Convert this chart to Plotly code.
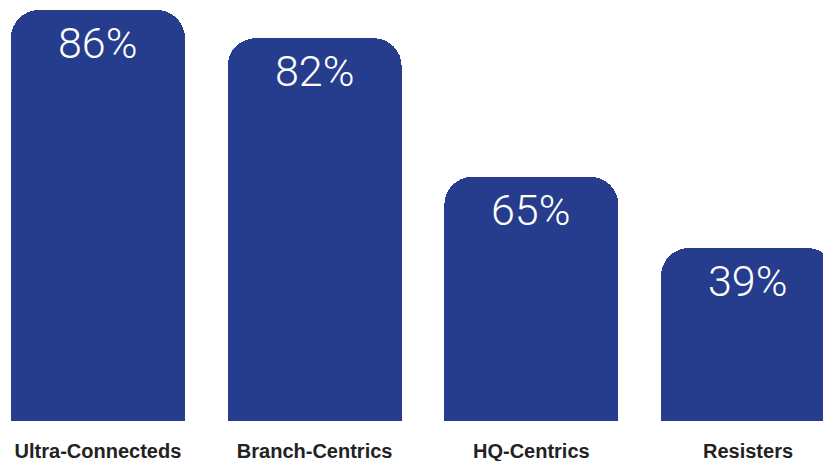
import plotly.graph_objects as go

categories = ["Ultra-Connecteds", "Branch-Centrics", "HQ-Centrics", "Resisters"]
percent_labels = [86, 82, 65, 39]
# bar heights as drawn in the picture (percent units)
bar_heights = [86, 80.1, 51.1, 36.2]

bar_color = "#253d8c"

fig = go.Figure()
fig.add_trace(go.Bar(
    x=categories,
    y=bar_heights,
    width=0.803,
    marker=dict(color=bar_color, cornerradius=28, line=dict(width=0)),
    hoverinfo="skip",
))

for cat, h, p in zip(categories, bar_heights, percent_labels):
    fig.add_annotation(
        x=cat, y=h, text=f"{p}%", showarrow=False,
        xanchor="center", yanchor="middle", yshift=-33,
        font=dict(family="Roboto", size=43, color="white", weight=300),
    )

fig.update_layout(
    width=823, height=461,
    margin=dict(l=0, r=0, t=0, b=40, autoexpand=False),
    paper_bgcolor="white", plot_bgcolor="white",
    showlegend=False,
    bargap=0,
)
fig.update_xaxes(
    range=[-0.452, 3.346],
    showgrid=False, zeroline=False, showline=False, ticks="",
    tickfont=dict(family="Liberation Sans", size=20, color="#222222", weight="bold"),
    ticklabelstandoff=16,
)
fig.update_yaxes(
    range=[0, 88.09], visible=False, showgrid=False, zeroline=False,
)

fig.write_html(
    "out.html",
    config={"displayModeBar": False, "staticPlot": True},
    post_script="document.body.style.margin='0';document.body.style.overflow='hidden';",
)
